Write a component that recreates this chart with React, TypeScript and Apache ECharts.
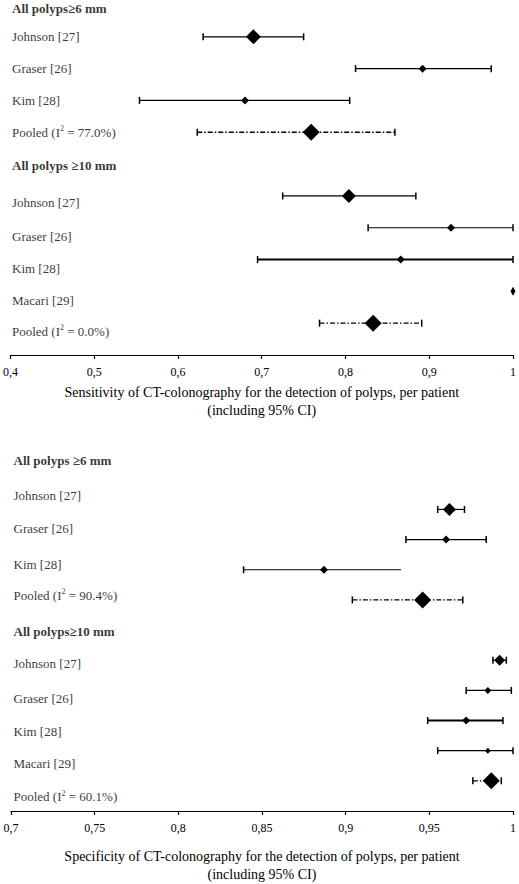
import React, { useEffect, useRef } from 'react';
import * as echarts from 'echarts';

// ---------- DATA ----------
const studies6 = ['Johnson [27]', 'Graser [26]', 'Kim [28]'];
const studies10 = ['Johnson [27]', 'Graser [26]', 'Kim [28]', 'Macari [29]'];
const sensHeaders = ['All polyps≥6 mm', 'All polyps ≥10 mm'];
const specHeaders = ['All polyps ≥6 mm', 'All polyps≥10 mm'];
const sensI2 = ['77.0%', '0.0%'];
const specI2 = ['90.4%', '60.1%'];

// Sensitivity (estimate, lower and upper 95% CI); last entry = pooled
const sens6Est = [0.69, 0.892, 0.68, 0.759];
const sens6Lo = [0.63, 0.812, 0.554, 0.623];
const sens6Hi = [0.75, 0.974, 0.805, 0.859];
const sens10Est = [0.804, 0.926, 0.866, 1.0, 0.833];
const sens10Lo = [0.725, 0.827, 0.695, 1.0, 0.769];
const sens10Hi = [0.884, 1.0, 1.0, 1.0, 0.891];

// Specificity
const spec6Est = [0.962, 0.96, 0.887, 0.946];
const spec6Lo = [0.955, 0.936, 0.839, 0.904];
const spec6Hi = [0.971, 0.984, 0.933, 0.97];
const spec10Est = [0.992, 0.985, 0.972, 0.985, 0.987];
const spec10Lo = [0.988, 0.972, 0.949, 0.955, 0.976];
const spec10Hi = [0.996, 0.999, 0.994, 1.0, 0.993];

const sensAxisTitle = 'Sensitivity of CT-colonography for the detection of polyps, per patient\n(including 95% CI)';
const specAxisTitle = 'Specificity of CT-colonography for the detection of polyps, per patient\n(including 95% CI)';

// ---------- LAYOUT / STYLE ----------
const FONT = 'Liberation Serif';
const DASH = [5, 2, 1.5, 2];

const topLayout = {
  markerRows: [1, 2, 3, 4, 6, 7, 8, 9, 10],
  labelRows: [1, 2, 3, 4, 6.2, 7.27, 8.27, 9.3, 10.25],
  headerRows: [0.12, 5.03],
  sizes: [[15, 15], [8, 8], [8, 8], [17, 17], [14, 14], [8, 8], [8, 8], [5, 9], [17, 17]],
  widths: [1.2, 1.2, 1.2, 1.3, 1.2, 1.2, 2, 1.2, 1.3],
  capL: [1, 1, 1, 1, 1, 1, 1, 0, 1],
  capR: [1, 1, 1, 1, 1, 1, 1, 0, 1],
  labelDist: 1,
};
const bottomLayout = {
  markerRows: [1, 2, 3, 4, 6, 7, 8, 9, 10],
  labelRows: [0.54, 1.63, 2.82, 3.84, 6.11, 7.26, 8.35, 9.43, 10.52],
  headerRows: [-0.64, 5.06],
  sizes: [[13, 13], [8, 8], [8, 8], [17, 17], [11, 11], [7, 7], [8, 8], [6, 6], [17, 17]],
  widths: [1.2, 1.2, 1.2, 1.3, 1.2, 1.2, 2, 1.2, 1.3],
  capL: [1, 1, 1, 1, 1, 1, 1, 1, 1],
  capR: [1, 1, 0, 1, 1, 1, 1, 1, 1],
  labelDist: 2,
};

function pooledLabel(i2: string) {
  return `{n|Pooled (I}{s|2}{n| = ${i2})}`;
}

function buildPanel(
  gi: number,
  layout: typeof topLayout,
  xmin: number,
  headers: string[],
  i2: string[],
  est6: number[], lo6: number[], hi6: number[],
  est10: number[], lo10: number[], hi10: number[]
) {
  const est = [...est6, ...est10];
  const lo = [...lo6, ...lo10];
  const hi = [...hi6, ...hi10];
  const pooledIdx = [est6.length - 1, est6.length + est10.length - 1];
  const names = [...studies6, pooledLabel(i2[0]), ...studies10, pooledLabel(i2[1])];

  const ciData = est.map((_, i) => [lo[i], hi[i], layout.markerRows[i]]);
  const markerData = est.map((v, i) => ({
    value: [v, layout.markerRows[i]],
    symbolSize: layout.sizes[i],
  }));
  const labelData: any[] = names.map((n, i) => ({
    value: [xmin, layout.labelRows[i]],
    name: n,
  }));
  headers.forEach((h, k) => {
    labelData.push({
      value: [xmin, layout.headerRows[k]],
      name: `{b|${h}}`,
    });
  });

  return [
    {
      type: 'custom',
      xAxisIndex: gi,
      yAxisIndex: gi,
      clip: false,
      data: ciData,
      renderItem: (params: any, api: any) => {
        const i = params.dataIndex;
        const a = api.coord([api.value(0), api.value(2)]);
        const b = api.coord([api.value(1), api.value(2)]);
        const pooled = pooledIdx.includes(i);
        const lw = layout.widths[i];
        const children: any[] = [];
        if (b[0] - a[0] > 0.5) {
          children.push({
            type: 'line',
            shape: { x1: a[0], y1: a[1], x2: b[0], y2: b[1] },
            style: { stroke: '#000', lineWidth: lw, lineDash: pooled ? DASH : null },
          });
        }
        const cap = 3.5;
        if (layout.capL[i]) {
          children.push({
            type: 'line',
            shape: { x1: a[0], y1: a[1] - cap, x2: a[0], y2: a[1] + cap },
            style: { stroke: '#000', lineWidth: 1.5 },
          });
        }
        if (layout.capR[i]) {
          children.push({
            type: 'line',
            shape: { x1: b[0], y1: b[1] - cap, x2: b[0], y2: b[1] + cap },
            style: { stroke: '#000', lineWidth: 1.5 },
          });
        }
        return { type: 'group', children };
      },
      z: 2,
    },
    {
      type: 'scatter',
      xAxisIndex: gi,
      yAxisIndex: gi,
      clip: false,
      symbol: 'diamond',
      itemStyle: { color: '#000', opacity: 1 },
      emphasis: { disabled: true },
      data: markerData,
      z: 3,
    },
    {
      type: 'scatter',
      xAxisIndex: gi,
      yAxisIndex: gi,
      clip: false,
      symbol: 'circle',
      symbolSize: 1,
      itemStyle: { color: 'rgba(255,255,255,0)' },
      emphasis: { disabled: true },
      data: labelData,
      label: {
        show: true,
        position: 'right',
        distance: layout.labelDist,
        formatter: (p: any) => (p.name.startsWith('{') ? p.name : `{n|${p.name}}`),
        color: '#000',
        fontFamily: FONT,
        fontSize: 13,
        rich: {
          n: { fontFamily: FONT, fontSize: 13, color: '#000', lineHeight: 15 },
          b: { fontFamily: FONT, fontSize: 13, fontWeight: 'bold', color: '#000', lineHeight: 15 },
          s: { fontFamily: FONT, fontSize: 8, color: '#000', lineHeight: 9, verticalAlign: 'top' },
        },
      },
      z: 4,
    },
  ];
}

function xAxis(gi: number, min: number, interval: number, title: string, nameGap: number) {
  return {
    type: 'value',
    gridIndex: gi,
    position: 'bottom',
    min,
    max: 1,
    interval,
    splitLine: { show: false },
    axisLine: { show: true, onZero: false, lineStyle: { color: '#000', width: 1.2 } },
    axisTick: { show: true, length: 4, lineStyle: { color: '#000', width: 1.2 } },
    axisLabel: {
      color: '#000',
      fontFamily: FONT,
      fontSize: 12,
      margin: 11,
      formatter: (v: number) => String(+v.toFixed(2)).replace('.', ','),
    },
    name: title,
    nameLocation: 'middle',
    nameGap,
    nameTextStyle: {
      color: '#000',
      fontFamily: FONT,
      fontSize: 14,
      lineHeight: 18,
      verticalAlign: 'top',
    },
  };
}

function yAxis(gi: number, min: number, max: number) {
  return {
    type: 'value',
    gridIndex: gi,
    min,
    max,
    inverse: true,
    show: false,
  };
}

export default function App() {
  const ref = useRef<HTMLDivElement>(null);
  useEffect(() => {
    if (!ref.current) return;
    const chart = echarts.init(ref.current, null, { renderer: 'svg' });
    chart.setOption({
      animation: false,
      backgroundColor: '#fff',
      grid: [
        { left: 7, width: 509, top: 5, height: 350 },
        { left: 11, width: 502, top: 460, height: 353.5 },
      ],
      xAxis: [
        xAxis(0, 0.4, 0.1, sensAxisTitle, 28),
        xAxis(1, 0.7, 0.05, specAxisTitle, 36),
      ],
      yAxis: [yAxis(0, 0, 11), yAxis(1, -0.64, 11)],
      series: [
        ...buildPanel(0, topLayout, 0.4, sensHeaders, sensI2,
          sens6Est, sens6Lo, sens6Hi, sens10Est, sens10Lo, sens10Hi),
        ...buildPanel(1, bottomLayout, 0.7, specHeaders, specI2,
          spec6Est, spec6Lo, spec6Hi, spec10Est, spec10Lo, spec10Hi),
      ],
    });
    return () => chart.dispose();
  }, []);
  return (
    <div
      ref={ref}
      style={{ position: 'fixed', left: 0, top: 0, width: 519, height: 884, background: '#fff' }}
    />
  );
}
